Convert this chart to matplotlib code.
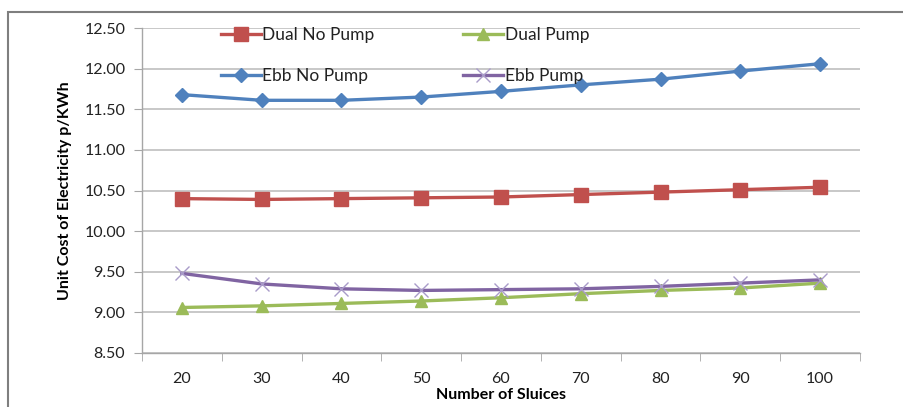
import matplotlib
matplotlib.use("Agg")
import matplotlib.pyplot as plt
from matplotlib.patches import Rectangle

plt.rcParams['font.family'] = ['Lato', 'DejaVu Sans']

categories = ["20", "30", "40", "50", "60", "70", "80", "90", "100"]
dual_no_pump = [10.40, 10.39, 10.40, 10.41, 10.42, 10.45, 10.48, 10.51, 10.54]
dual_pump = [9.06, 9.08, 9.11, 9.14, 9.18, 9.23, 9.27, 9.30, 9.36]
ebb_no_pump = [11.68, 11.61, 11.61, 11.65, 11.72, 11.80, 11.87, 11.97, 12.06]
ebb_pump = [9.48, 9.35, 9.29, 9.27, 9.28, 9.29, 9.32, 9.36, 9.40]
yticks = [8.5, 9.0, 9.5, 10.0, 10.5, 11.0, 11.5, 12.0, 12.5]

fig = plt.figure(figsize=(9.04, 4.07), dpi=100)
ax = fig.add_axes([142/904, 1-353/407, 718/904, 325/407])

x = list(range(len(categories)))
h_dnp, = ax.plot(x, dual_no_pump, color='#C0504D', lw=2.4, marker='s', ms=10, label='Dual No Pump', zorder=3)
h_dp, = ax.plot(x, dual_pump, color='#9BBB59', lw=2.4, marker='^', ms=9, label='Dual Pump', zorder=3)
h_enp, = ax.plot(x, ebb_no_pump, color='#4F81BD', lw=2.4, marker='D', ms=7, label='Ebb No Pump', zorder=3)
h_ep, = ax.plot(x, ebb_pump, color='#8064A2', lw=2.4, marker='x', ms=10, mec='#A99BC9', mew=1.0, label='Ebb Pump', zorder=3)

ax.set_xlim(-0.5, len(categories)-0.5)
ax.set_ylim(8.5, 12.5)
ax.set_yticks(yticks)
ax.set_yticklabels([f"{v:.2f}" for v in yticks], fontsize=11.5, color='#222222')
ax.set_xticks(x)
ax.set_xticklabels(categories, fontsize=11.5, color='#222222')
ax.set_xticks([i - 0.5 for i in range(len(categories)+1)], minor=True)
ax.tick_params(axis='x', which='major', length=0, pad=14)
ax.tick_params(axis='x', which='minor', length=6, color='#A6A6A6', direction='out')
ax.tick_params(axis='y', length=6, color='#A6A6A6', direction='out', pad=6)

ax.grid(axis='y', color='#BFBFBF', lw=1.2)
ax.set_axisbelow(True)
for s in ['top', 'right']:
    ax.spines[s].set_visible(False)
for s in ['left', 'bottom']:
    ax.spines[s].set_color('#A6A6A6')
    ax.spines[s].set_linewidth(1.0)

ax.set_xlabel("Number of Sluices", fontsize=11.5, fontweight='bold', labelpad=1)
ax.set_ylabel("Unit Cost of Electricity p/KWh", fontsize=11.5, fontweight='bold', labelpad=9)

leg = ax.legend(handles=[h_dnp, h_enp, h_dp, h_ep], ncol=2, loc='upper left',
                bbox_to_anchor=(0.1, 1.025), frameon=False, fontsize=12.5,
                handlelength=2.3, labelspacing=1.45, columnspacing=5.1,
                handletextpad=0.1, borderaxespad=0)
for t in leg.get_texts():
    t.set_color('#222222')

fig.patches.append(Rectangle((8/904, -0.1), 1.0, 1-12/407+0.1, transform=fig.transFigure,
                             fill=False, edgecolor='#7F7F7F', lw=1.5))

fig.savefig("out.png", dpi=100)
